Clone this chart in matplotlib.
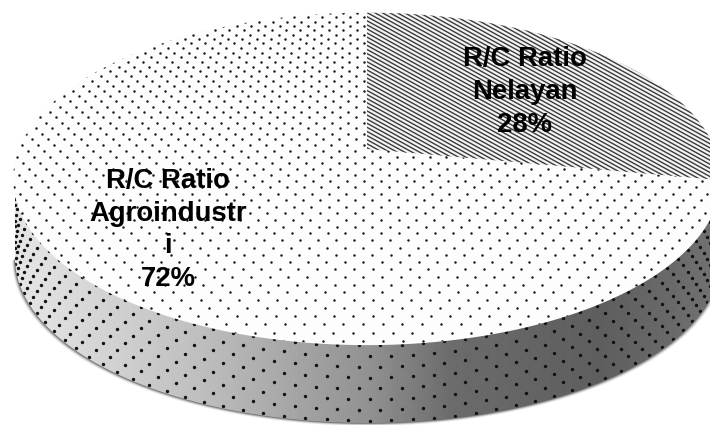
import numpy as np
import matplotlib
matplotlib.use('Agg')
import matplotlib.pyplot as plt
from matplotlib.patches import Polygon

plt.rcParams['font.family'] = ['Liberation Sans', 'DejaVu Sans']

# data
labels = ['R/C Ratio\nNelayan', 'R/C Ratio\nAgroindustr\ni']
shares = [28, 72]

# disc geometry in image pixels
CX, CY0, AX0 = 367, 149, 348
PERSP = 0.18
RIM_X, RIM_A, RIM_Y, RIM_B = 368, 353, 258, 165


def project(u, v):
    # perspective view of the pie's unit circle
    w = PERSP * v + 1
    return CX + AX0 * u / w, (-134 * v + CY0) / w


def wedge(start, stop, n=200):
    t = np.radians(np.linspace(start, stop, n))
    x, y = project(np.cos(t), np.sin(t))
    ax0, ay0 = project(0, 0)
    return np.column_stack([np.r_[ax0, x], np.r_[ay0, y]])


fig = plt.figure(figsize=(7.1, 4.25), dpi=100)
ax = fig.add_axes([0, 0, 1, 1])
ax.set_xlim(0, 710)
ax.set_ylim(425, 0)
ax.axis('off')

# outline of the lower rim
t = np.radians(np.linspace(180, 360, 300))
rim_x = RIM_X + RIM_A * np.cos(t)
rim_y = RIM_Y - RIM_B * np.sin(t)

# soft shadow round the lower rim
for off, alpha in zip([6, 5, 4, 3, 2, 1], [0.04, 0.06, 0.09, 0.13, 0.18, 0.25]):
    sx = RIM_X + (RIM_A + off * 0.5) * np.cos(t)
    sy = RIM_Y + off * 0.5 - RIM_B * np.sin(t)
    ax.add_patch(Polygon(np.column_stack([sx, sy]), closed=True, fc='black', ec='none', alpha=alpha, zorder=1))

# side wall gradient
side = Polygon(np.column_stack([np.r_[rim_x, 721, 15], np.r_[rim_y, 178, 178]]),
               closed=True, fc='none', ec='none', zorder=2)
ax.add_patch(side)
xs = np.linspace(0, 710, 355)
shade = np.interp(xs, [0, 40, 200, 370, 450, 600, 710], [232, 225, 190, 145, 108, 94, 112])
img = ax.imshow(shade[None, :], extent=[0, 710, 425, 150], cmap='gray', vmin=0, vmax=255,
                aspect='auto', zorder=2)
img.set_clip_path(side)
ax.set_xlim(0, 710)
ax.set_ylim(425, 0)

# dots on the side wall
ang = []
frac = []
for i, f in enumerate(np.linspace(0.03, 0.97, 8)):
    step = 3.5
    a = np.arange(181 + (i % 2) * step / 2, 360, step)
    ang.append(a)
    frac.append(np.full(a.size, f))
ang = np.radians(np.concatenate(ang))
frac = np.concatenate(frac)
top_x = RIM_X + RIM_A * np.cos(ang)
top_y = 178 - RIM_B * np.sin(ang)
bot_y = RIM_Y - RIM_B * np.sin(ang)
dots = ax.scatter(top_x, top_y + (bot_y - top_y) * frac, s=6, c='#111111', lw=0, zorder=3)
dots.set_clip_path(side)

# pie faces, angles run clockwise from twelve o'clock
split = 90 - 360 * shares[0] / sum(shares)
big = Polygon(wedge(split - 360, split, 500)[::-1], closed=True, fc='#fdfdfd', ec='none', zorder=4)
small = Polygon(wedge(split, 90), closed=True, fc='#f4f4f4', ec='none', zorder=5)
ax.add_patch(big)
ax.add_patch(small)

# dot texture on the top face
px, py = [], []
for r, v in enumerate(np.arange(-1.02, 1.02, 0.036)):
    u = np.arange(-1.02, 1.02, 0.047) + (r % 2) * 0.0235
    x, y = project(u, np.full(u.size, v))
    px.append(x)
    py.append(y)
top_dots = ax.scatter(np.concatenate(px), np.concatenate(py), s=3.2, c='#1a1a1a', lw=0, zorder=4.5)
top_dots.set_clip_path(big)

# diagonal hatch on the small slice
for c in np.arange(-400, 200, 4.1):
    hx = np.array([340, 720])
    ln, = ax.plot(hx, c + 0.55 * (hx - 340), color='#3a3a3a', lw=1.0, zorder=6)
    ln.set_clip_path(small)

# labels
ax.text(525, 131.5, f'{labels[0]}\n{shares[0]}%', ha='center', va='baseline', ma='center',
        fontsize=19.8, fontweight='bold', color='black', linespacing=1.33, zorder=8)
ax.text(168, 286, f'{labels[1]}\n{shares[1]}%', ha='center', va='baseline', ma='center',
        fontsize=19.8, fontweight='bold', color='black', linespacing=1.33, zorder=8)

fig.savefig('out.png', dpi=100)
